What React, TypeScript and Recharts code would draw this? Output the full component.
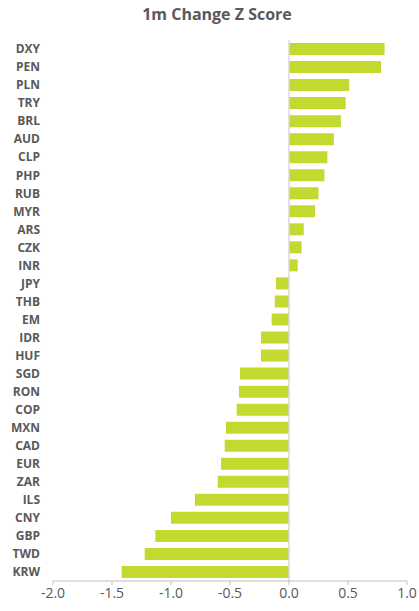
import React from "react";
import { BarChart, Bar, XAxis, YAxis, ReferenceLine } from "recharts";

const categories = ["DXY","PEN","PLN","TRY","BRL","AUD","CLP","PHP","RUB","MYR","ARS","CZK","INR","JPY","THB","EM","IDR","HUF","SGD","RON","COP","MXN","CAD","EUR","ZAR","ILS","CNY","GBP","TWD","KRW"];
const zScores = [0.81,0.78,0.51,0.48,0.44,0.38,0.325,0.30,0.25,0.22,0.125,0.107,0.074,-0.11,-0.12,-0.147,-0.237,-0.237,-0.415,-0.424,-0.443,-0.534,-0.545,-0.576,-0.604,-0.797,-1.0,-1.133,-1.223,-1.418];
const xTicks = [-2, -1.5, -1, -0.5, 0, 0.5, 1];
const title = "1m Change Z Score";

const data = categories.map((c, i) => ({ name: c, value: zScores[i] }));

export default function App() {
  return (
    <div style={{ position: "absolute", left: 0, top: 0, width: 419, height: 611, background: "#fff" }}>
      <div style={{ position: "absolute", left: 0, top: 3, width: 434, textAlign: "center", fontFamily: "'Open Sans', sans-serif", fontWeight: 700, fontSize: 16, color: "#595959" }}>
        {title}
      </div>
      <BarChart width={419} height={611} data={data} layout="vertical" margin={{ top: 40, right: 12, bottom: 0, left: 0 }}>
        <XAxis type="number" domain={[-2, 1]} ticks={xTicks} tickFormatter={(v: number) => v.toFixed(1)} stroke="#bfbfbf" tickSize={4} tickMargin={3} height={30} tick={{ fill: "#595959", fontSize: 14, fontFamily: "'Open Sans', sans-serif" }} />
        <YAxis type="category" dataKey="name" width={53} axisLine={false} tickLine={false} tickSize={0} tickMargin={13} interval={0} tick={{ fill: "#595959", fontSize: 12, fontWeight: 700, fontFamily: "'Open Sans', sans-serif" }} />
        <Bar dataKey="value" fill="#c3d92f" barSize={12} isAnimationActive={false} />
        <ReferenceLine x={0} stroke="#d9d9d9" strokeWidth={1.5} />
      </BarChart>
    </div>
  );
}
